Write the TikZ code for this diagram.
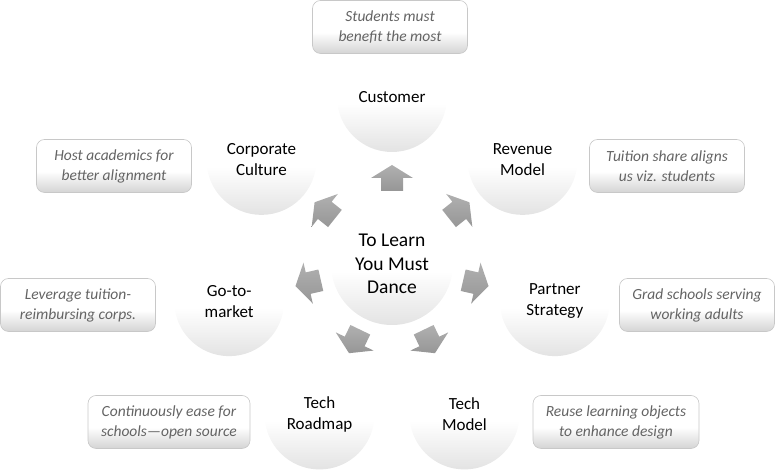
\documentclass[tikz,border=0pt]{standalone}
\usepackage{fontspec}
\setmainfont{Carlito}
\usetikzlibrary{calc}
\definecolor{calltext}{RGB}{100,100,100}
\definecolor{callborder}{RGB}{200,200,200}
\pgfdeclareverticalshading{bubshade}{100bp}{color(0bp)=(black!11); color(25bp)=(black!11); color(47bp)=(white); color(100bp)=(white)}
\pgfdeclareverticalshading{boxshade}{100bp}{color(0bp)=(black!17); color(25bp)=(black!17); color(45bp)=(white); color(100bp)=(white)}
\tikzset{
  bubble/.style={circle, minimum size=110pt, inner sep=0pt, align=center,
    shading=bubshade,
    font=\fontsize{17}{21}\selectfont, text=black},
  hub/.style={bubble, minimum size=122pt, font=\fontsize{19.5}{23.5}\selectfont},
  callout/.style={rounded corners=8pt, draw=callborder, line width=0.6pt,
    shading=boxshade,
    minimum width=155pt, minimum height=53pt, inner sep=2pt, align=center,
    font=\fontsize{15.5}{20}\selectfont\itshape, text=calltext},
  blockarrow/.style={top color=gray!62, bottom color=gray!82, draw=none}
}
\begin{document}
\begin{tikzpicture}[x=1pt,y=1pt]
\useasboundingbox (0,0) rectangle (777,470);
\coordinate (C) at (392,206);
% arrows
\foreach \a in {90,38.571,-12.857,-64.286,-115.714,-167.143,141.429} {
  \path[blockarrow]
    ($(C)+(\a:73pt)+(\a+90:11pt)$) -- ($(C)+(\a:86pt)+(\a+90:11pt)$) --
    ($(C)+(\a:86pt)+(\a+90:21pt)$) -- ($(C)+(\a:99pt)$) --
    ($(C)+(\a:86pt)+(\a-90:21pt)$) -- ($(C)+(\a:86pt)+(\a-90:11pt)$) --
    ($(C)+(\a:73pt)+(\a-90:11pt)$) -- cycle;
}
% hub
\node[hub] (hub) at (C) {To Learn\\You Must\\Dance};
% outer bubbles
\node[bubble] (cust) at ($(C)+(90:167pt)$) {Customer};
\node[bubble] (rev) at ($(C)+(38.571:167pt)$) {Revenue\\Model};
\node[bubble] (part) at ($(C)+(-12.857:167pt)$) {Partner\\Strategy};
\node[bubble] (tmod) at ($(C)+(-64.286:167pt)$) {Tech\\Model};
\node[bubble] (troad) at ($(C)+(-115.714:167pt)$) {Tech\\Roadmap};
\node[bubble] (gtm) at ($(C)+(-167.143:167pt)$) {Go-to-\\market};
\node[bubble] (corp) at ($(C)+(141.429:167pt)$) {Corporate\\Culture};
% callouts
\node[callout] (c1) at (390,443) {Students must\\benefit the most};
\node[callout] (c2) at (667,304) {Tuition share aligns\\us viz. students};
\node[callout] (c3) at (697,165) {Grad schools serving\\working adults};
\node[callout, minimum width=166pt] (c4) at (616,48) {Reuse learning objects\\to enhance design};
\node[callout, minimum width=162pt] (c5) at (169,48) {Continuously ease for\\schools—open source};
\node[callout] (c6) at (78,165) {Leverage tuition-\\reimbursing corps.};
\node[callout] (c7) at (114,304) {Host academics for\\better alignment};
\end{tikzpicture}
\end{document}
